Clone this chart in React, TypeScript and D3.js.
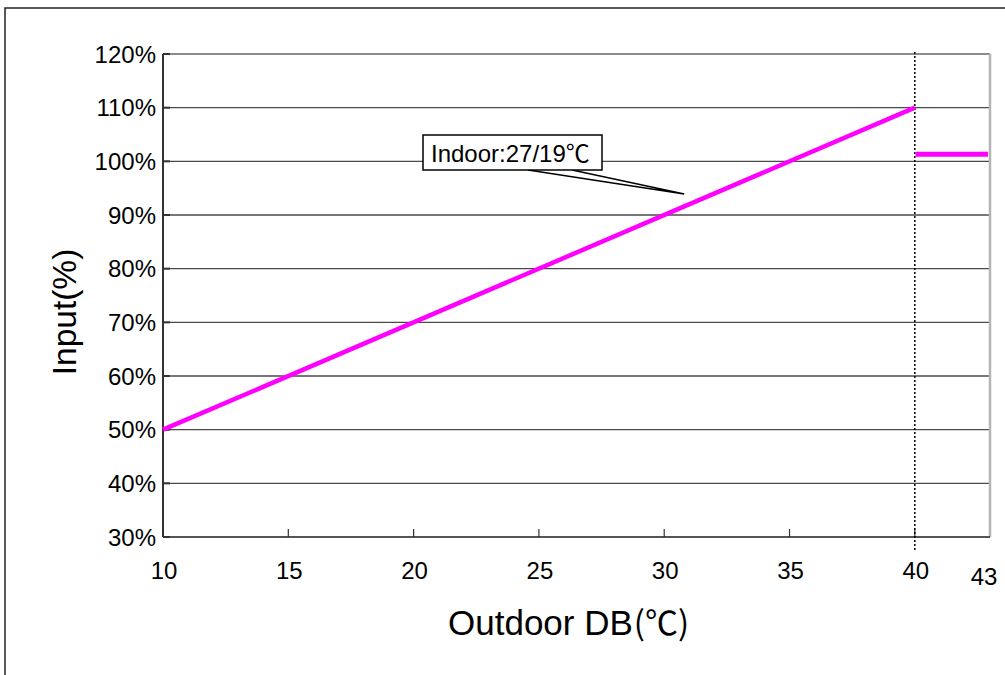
import React from "react";
import * as d3 from "d3";

const xTicks = [10, 15, 20, 25, 30, 35, 40];
const xExtraTick = 43;
const yTicks = [30, 40, 50, 60, 70, 80, 90, 100, 110, 120];
const lineX = [10, 40];
const lineY = [50, 110];
const flatX = [40, 43];
const flatY = [101.3, 101.3];
const annotationText = "Indoor:27/19";
const annotationUnit = "℃";
const annotationTip = [30.8, 93.9];
const xLabel = "Outdoor DB";
const xUnit = "(℃)";
const yLabel = "Input(%)";

const W = 1005;
const H = 675;
const L = 163, R = 990, T = 54, B = 537;
const FONT = "'Liberation Sans', Arial, sans-serif";
const CJK = "'Noto Sans CJK SC', sans-serif";

export default function App() {
  const x = d3.scaleLinear().domain([10, 43]).range([L, R]);
  const y = d3.scaleLinear().domain([30, 120]).range([B, T]);
  const line = d3.line<[number, number]>().x((d) => x(d[0])).y((d) => y(d[1]));
  const seg1: [number, number][] = lineX.map((v, i) => [v, lineY[i]]);
  const seg2: [number, number][] = flatX.map((v, i) => [v, flatY[i]]);
  const tipX = x(annotationTip[0]);
  const tipY = y(annotationTip[1]);
  const boxX = 423, boxY = 135, boxW = 179, boxH = 35;

  return (
    <svg width={W} height={H} style={{ position: "absolute", left: 0, top: 0 }}>
      <rect x={0} y={0} width={W} height={H} fill="#fff" />
      {/* outer frame */}
      <rect x={5} y={8} width={W + 20} height={H + 20} fill="none" stroke="#222" strokeWidth={1.5} />
      {/* gridlines */}
      {yTicks.slice(1, -1).map((t) => (
        <line key={t} x1={L} x2={R} y1={y(t)} y2={y(t)} stroke="#4a4a4a" strokeWidth={1.3} />
      ))}
      {/* plot border */}
      <line x1={L} x2={R} y1={T} y2={T} stroke="#8c8c8c" strokeWidth={2} />
      <line x1={R} x2={R} y1={T} y2={B} stroke="#b4b4b4" strokeWidth={2.5} />
      <line x1={L} x2={R} y1={B} y2={B} stroke="#555" strokeWidth={2} />
      <line x1={L} x2={L} y1={T} y2={B} stroke="#333" strokeWidth={2} />
      {/* y ticks */}
      {yTicks.map((t) => (
        <g key={t}>
          <line x1={L} x2={L + 7} y1={y(t)} y2={y(t)} stroke="#333" strokeWidth={2} />
          <text x={156} y={y(t)} dy="0.36em" textAnchor="end" fontFamily={FONT} fontSize={24} fill="#000">
            {t}%
          </text>
        </g>
      ))}
      {/* x ticks */}
      {xTicks.map((t) => (
        <g key={t}>
          <line x1={x(t)} x2={x(t)} y1={B} y2={B - 8} stroke="#333" strokeWidth={1.2} />
          <text x={x(t) + 1} y={579} textAnchor="middle" fontFamily={FONT} fontSize={24} fill="#000">
            {t}
          </text>
        </g>
      ))}
      <text x={x(xExtraTick) - 6} y={585} textAnchor="middle" fontFamily={FONT} fontSize={24} fill="#000">
        {xExtraTick}
      </text>
      {/* dotted vertical at 40 */}
      <line x1={x(40)} x2={x(40)} y1={T - 2} y2={551} stroke="#000" strokeWidth={1.5} strokeDasharray="2,2" />
      {/* series */}
      <path d={line(seg1) || ""} fill="none" stroke="#ff00ff" strokeWidth={4.5} />
      <path d={line([[seg2[0][0] + 0.03, seg2[0][1]], [seg2[1][0] - 0.08, seg2[1][1]]]) || ""} fill="none" stroke="#ff00ff" strokeWidth={5} />
      {/* annotation */}
      <path d={`M${528},${boxY + boxH} L${tipX},${tipY} L${572},${boxY + boxH}`} fill="none" stroke="#000" strokeWidth={1.5} />
      <rect x={boxX} y={boxY} width={boxW} height={boxH} fill="#fff" stroke="#000" strokeWidth={1.5} />
      <text x={boxX + 8} y={boxY + 27} fontFamily={FONT} fontSize={24} fill="#000">
        {annotationText}
        <tspan fontFamily={CJK} fontSize={24}>{annotationUnit}</tspan>
      </text>
      {/* axis labels */}
      <text x={448} y={635} fontFamily={FONT} fontSize={35} fill="#000">
        {xLabel}
        <tspan fontFamily={CJK} fontSize={33} dx={1}>{xUnit}</tspan>
      </text>
      <text transform={`translate(76,312) rotate(-90)`} textAnchor="middle" fontFamily={FONT} fontSize={33.5} fill="#000">
        {yLabel}
      </text>
    </svg>
  );
}
